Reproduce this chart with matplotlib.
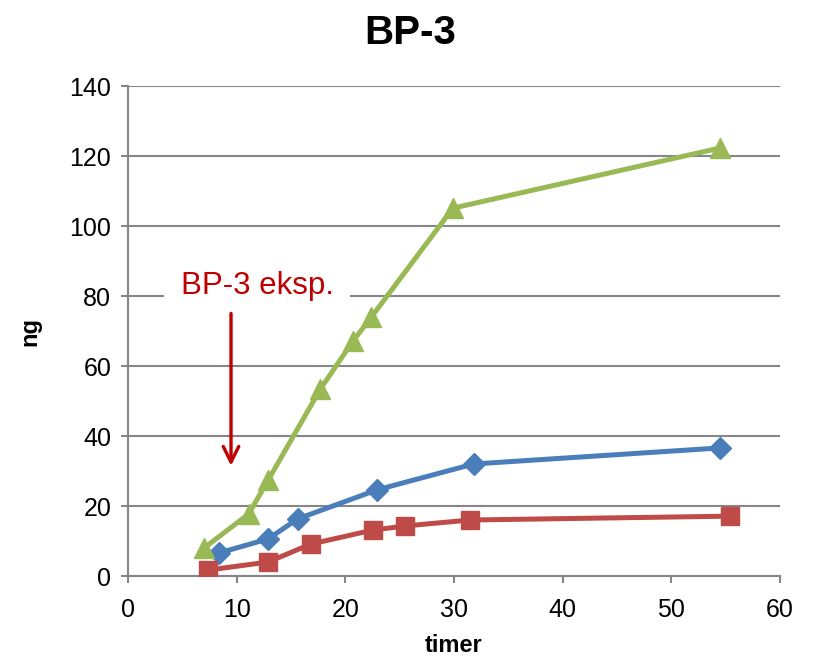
import matplotlib
matplotlib.use("Agg")
import matplotlib.pyplot as plt

# Series: hours vs. ng
blue_x = [8.4, 12.9, 15.6, 22.9, 31.8, 54.5]
blue_y = [6.6, 10.6, 16.3, 24.6, 32.0, 36.6]

red_x = [7.4, 12.9, 16.8, 22.5, 25.5, 31.5, 55.4]
red_y = [1.7, 4.0, 9.1, 13.1, 14.3, 16.0, 17.1]

green_x = [7.0, 11.1, 12.9, 17.7, 20.7, 22.4, 29.9, 54.5]
green_y = [8.0, 17.7, 27.4, 53.4, 67.1, 74.0, 105.1, 122.3]

x_ticks = [0, 10, 20, 30, 40, 50, 60]
y_ticks = [0, 20, 40, 60, 80, 100, 120, 140]

plt.rcParams['font.family'] = ['Liberation Sans', 'DejaVu Sans']

fig = plt.figure(figsize=(8.15, 6.6), dpi=100)
ax = fig.add_axes([128 / 815, 1 - 576 / 660, (780 - 128) / 815, (576 - 86) / 660])

grid_c = '#868686'
ax.set_xlim(0, 60)
ax.set_ylim(0, 140)
ax.set_xticks(x_ticks)
ax.set_yticks(y_ticks)
ax.yaxis.grid(True, color=grid_c, linewidth=1.5)
ax.set_axisbelow(True)
for s in ['top', 'right']:
    ax.spines[s].set_visible(False)
for s in ['left', 'bottom']:
    ax.spines[s].set_color(grid_c)
    ax.spines[s].set_linewidth(1.5)
ax.tick_params(axis='both', direction='out', length=5, width=1.5, color=grid_c,
               labelsize=18)
ax.tick_params(axis='x', pad=11)
ax.tick_params(axis='y', pad=7)

ax.plot(blue_x, blue_y, color='#4A7EBB', lw=3.6, marker='D', ms=11.5, zorder=3)
ax.plot(red_x, red_y, color='#BE4B48', lw=3.6, marker='s', ms=12.5, zorder=3)
ax.plot(green_x, green_y, color='#98B954', lw=3.6, marker='^', ms=14.5, zorder=3)

fig.text(410 / 815, 1 - 33 / 660, 'BP-3', fontsize=29, fontweight='bold',
         ha='center', va='center')
ax.set_xlabel('timer', fontsize=17, fontweight='bold')
ax.xaxis.set_label_coords(0.5, -(646 - 576) / 490)
ax.xaxis.label.set_va('center')
ax.set_ylabel('ng', fontsize=17, fontweight='bold', labelpad=20)

# Exposure annotation
ax.text(11.9, 82.8, 'BP-3 eksp.', fontsize=22.5, color='#C00000', ha='center', va='center',
        bbox=dict(facecolor='white', edgecolor='none', pad=12), zorder=4)
ax.annotate('', xy=(9.48, 31.5), xytext=(9.48, 75.0),
            arrowprops=dict(arrowstyle='->', color='#C00000', lw=2.4,
                            mutation_scale=28, shrinkA=0, shrinkB=0), zorder=4)

fig.savefig('out.png', dpi=100)
